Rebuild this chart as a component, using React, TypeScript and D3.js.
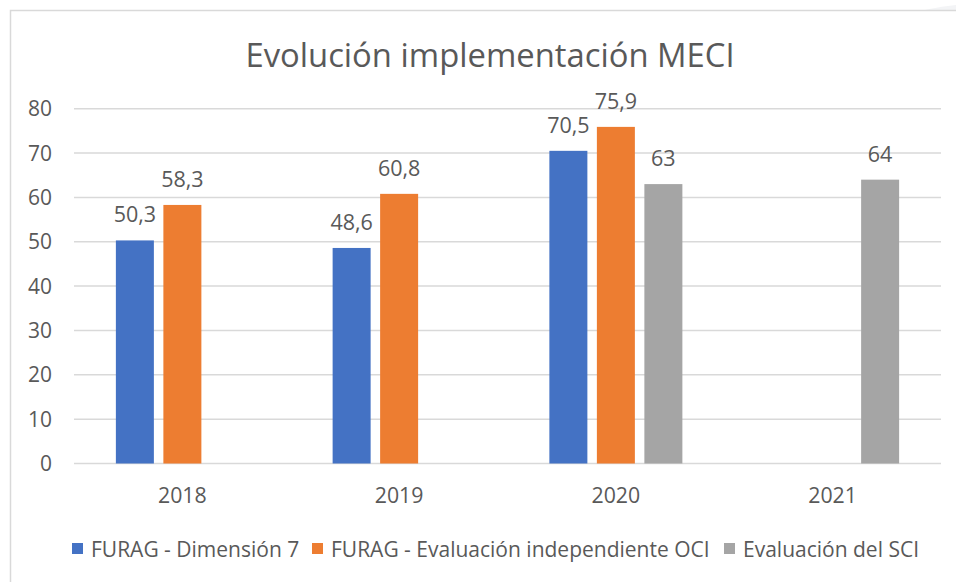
import React, { useEffect, useRef } from "react";
import * as d3 from "d3";

const years = ["2018", "2019", "2020", "2021"];
const seriesNames = [
  "FURAG - Dimensión 7",
  "FURAG - Evaluación independiente OCI",
  "Evaluación del SCI",
];
const furagDim7 = [50.3, 48.6, 70.5, null];
const furagOci = [58.3, 60.8, 75.9, null];
const evalSci = [null, null, 63, 64];
const yTicks = [0, 10, 20, 30, 40, 50, 60, 70, 80];
const colors = ["#4472C4", "#ED7D31", "#A5A5A5"];

const W = 956;
const H = 582;
const FONT = "'Open Sans', sans-serif";
const TEXT = "#595959";

const App = () => {
  const svgRef = useRef<SVGSVGElement>(null);

  useEffect(() => {
    document.body.style.margin = "0";
    const svg = d3.select(svgRef.current);
    svg.selectAll("*").remove();

    const series = [furagDim7, furagOci, evalSci];
    const left = 74;
    const right = 941;
    const top = 108.7;
    const bottom = 463.5;

    // background + chart border
    svg.append("rect").attr("width", W).attr("height", H).attr("fill", "#fff");
    svg
      .append("ellipse")
      .attr("cx", 1010)
      .attr("cy", 40)
      .attr("rx", 140)
      .attr("ry", 38)
      .attr("fill", "#F3F4F6");
    svg
      .append("rect")
      .attr("x", 10.5)
      .attr("y", 10.5)
      .attr("width", W + 20)
      .attr("height", H + 20)
      .attr("fill", "#fff")
      .attr("stroke", "#D9D9D9")
      .attr("stroke-width", 1.5);

    const x = d3.scaleBand().domain(years).range([left, right]);
    const y = d3.scaleLinear().domain([0, 80]).range([bottom, top]);
    // inner scale for the 3 bars in each group
    const x1 = d3
      .scaleBand()
      .domain(seriesNames)
      .range([x.bandwidth() / 2 - 66.5, x.bandwidth() / 2 + 66.5])
      .paddingInner(0.2);

    // title
    svg
      .append("text")
      .attr("x", 490)
      .attr("y", 67)
      .attr("text-anchor", "middle")
      .attr("font-family", FONT)
      .attr("font-size", 32.8)
      .attr("fill", TEXT)
      .text("Evolución implementación MECI");

    // gridlines
    svg
      .append("g")
      .selectAll("line")
      .data(yTicks)
      .join("line")
      .attr("x1", left)
      .attr("x2", right)
      .attr("y1", d => y(d))
      .attr("y2", d => y(d))
      .attr("stroke", "#D9D9D9")
      .attr("stroke-width", 1.5);

    // y axis labels
    svg
      .append("g")
      .selectAll("text")
      .data(yTicks)
      .join("text")
      .attr("x", 52)
      .attr("y", d => y(d))
      .attr("dy", "0.36em")
      .attr("text-anchor", "end")
      .attr("font-family", FONT)
      .attr("font-size", 21)
      .attr("fill", TEXT)
      .text(d => d);

    // x axis labels
    svg
      .append("g")
      .selectAll("text")
      .data(years)
      .join("text")
      .attr("x", d => (x(d) as number) + x.bandwidth() / 2)
      .attr("y", 503)
      .attr("text-anchor", "middle")
      .attr("font-family", FONT)
      .attr("font-size", 21.3)
      .attr("fill", TEXT)
      .text(d => d);

    // bars + data labels
    series.forEach((vals, si) => {
      const pts = years
        .map((yr, i) => ({ yr, v: vals[i] }))
        .filter(p => p.v != null) as { yr: string; v: number }[];
      const g = svg.append("g");
      g.selectAll("rect")
        .data(pts)
        .join("rect")
        .attr("x", d => (x(d.yr) as number) + (x1(seriesNames[si]) as number))
        .attr("y", d => y(d.v))
        .attr("width", x1.bandwidth())
        .attr("height", d => y(0) - y(d.v))
        .attr("fill", colors[si]);
      g.selectAll("text")
        .data(pts)
        .join("text")
        .attr("x", d => (x(d.yr) as number) + (x1(seriesNames[si]) as number) + x1.bandwidth() / 2)
        .attr("y", d => y(d.v) - 18)
        .attr("text-anchor", "middle")
        .attr("font-family", FONT)
        .attr("font-size", 21.5)
        .attr("fill", TEXT)
        .text(d => String(d.v).replace(".", ","));
    });

    // legend
    const legendX = [72, 312, 724];
    const lg = svg
      .append("g")
      .selectAll("g")
      .data(seriesNames)
      .join("g")
      .attr("transform", (d, i) => `translate(${legendX[i]},549)`);
    lg.append("rect")
      .attr("x", 0)
      .attr("y", -6)
      .attr("width", 11)
      .attr("height", 11)
      .attr("fill", (d, i) => colors[i]);
    lg.append("text")
      .attr("x", 19)
      .attr("y", 0)
      .attr("dy", "0.36em")
      .attr("font-family", FONT)
      .attr("font-size", 21)
      .attr("fill", TEXT)
      .text(d => d);
  }, []);

  return <svg ref={svgRef} width={W} height={H} style={{ display: "block" }} />;
};

export default App;
